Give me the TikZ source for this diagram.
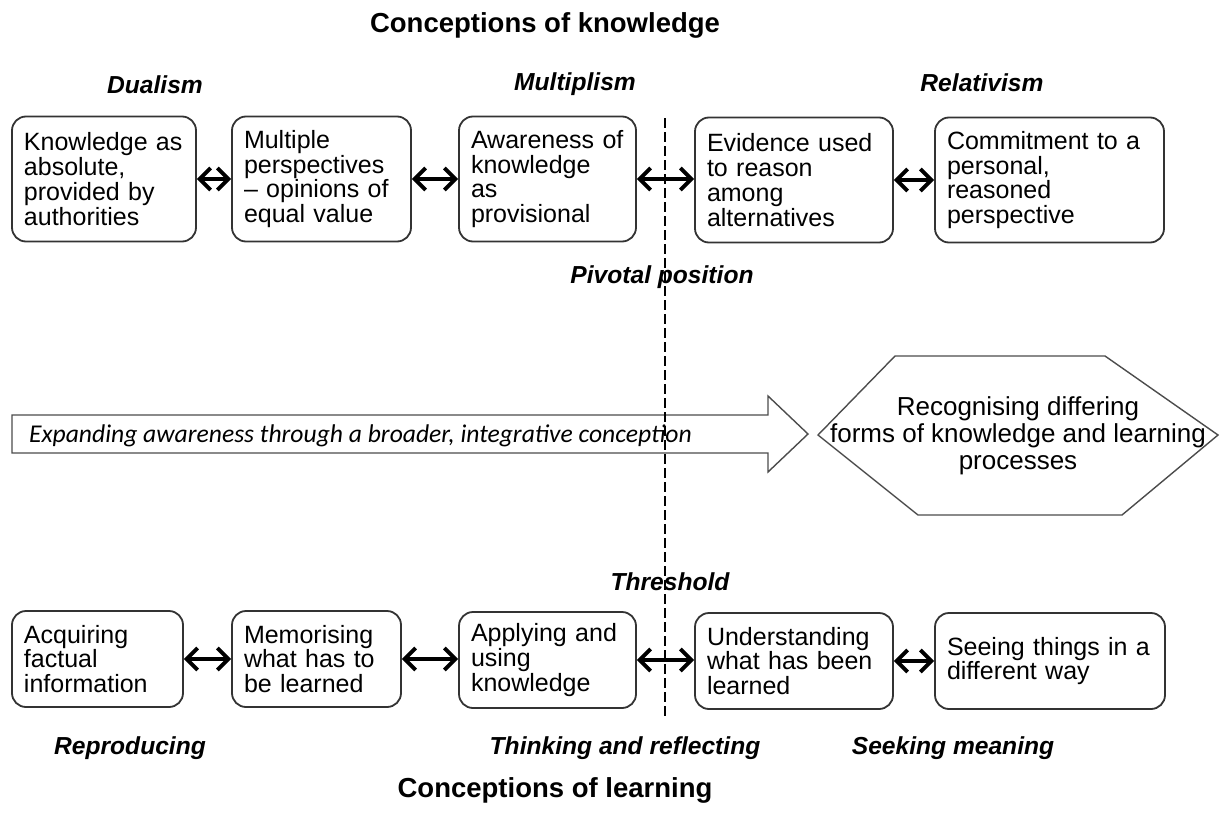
\documentclass[tikz,border=0pt]{standalone}
\usepackage{fontspec}
\setmainfont{Liberation Sans}
\newfontfamily\carlito{Carlito}
\usetikzlibrary{arrows.meta}

\tikzset{
    conbox/.style={draw=black!80, line width=0.9pt, rounded corners=7pt, align=left, inner xsep=6pt, inner ysep=0pt, font=\fontsize{12.5}{12.4}\selectfont},
    stagelabel/.style={font=\fontsize{12.3}{14}\selectfont\bfseries\itshape},
    heading/.style={font=\fontsize{13.75}{16}\selectfont\bfseries},
    biarrow/.style={{Straight Barb[length=5.5pt,width=11pt]}-{Straight Barb[length=5.5pt,width=11pt]}, line width=1.9pt},
    pivot/.style={dash pattern=on 5pt off 2pt, line width=1.4pt},
    outline/.style={draw=black!70, line width=0.7pt}
}

\begin{document}
\begin{tikzpicture}[x=0.5pt,y=-0.5pt]
    \useasboundingbox (0,0) rectangle (1221,830);

    % headings
    \node[heading] (hknow) at (545,25) {Conceptions of knowledge};
    \node[heading] (hlearn) at (555,790) {Conceptions of learning};

    % stage labels
    \node[stagelabel] (dual) at (155,85) {Dualism};
    \node[stagelabel] (multi) at (575,84) {Multiplism};
    \node[stagelabel] (rel) at (982,83) {Relativism};
    \node[stagelabel] (pivlab) at (662,277) {Pivotal position};
    \node[stagelabel] (thrlab) at (670,582) {Threshold};
    \node[stagelabel] (repr) at (130,748) {Reproducing};
    \node[stagelabel] (think) at (625,748) {Thinking and reflecting};
    \node[stagelabel] (seek) at (953,748) {Seeking meaning};

    % conceptions of knowledge
    \begin{scope}[every node/.append style={conbox, minimum height=62.5pt}]
        \node[minimum width=92pt, text width=80pt] (k1) at (104,179) {Knowledge as\\absolute,\\provided by\\authorities};
        \node[minimum width=89.5pt, text width=77.5pt] (k2) at (321.5,179) {Multiple\\perspectives\\-- opinions of\\equal value};
        \node[minimum width=88.5pt, text width=76.5pt] (k3) at (547.5,179) {Awareness of\\knowledge\\as\\provisional};
        \node[minimum width=99pt, text width=87pt] (k4) at (794,180) {Evidence used\\to reason\\among\\alternatives};
        \node[minimum width=114.5pt, text width=102.5pt] (k5) at (1049.5,180) {Commitment to a\\personal,\\reasoned\\perspective};
    \end{scope}

    % conceptions of learning
    \begin{scope}[every node/.append style={conbox, minimum height=48pt}]
        \node[minimum width=85.5pt, text width=73.5pt] (l1) at (97.5,659) {Acquiring\\factual\\information};
        \node[minimum width=84.5pt, text width=72.5pt] (l2) at (316.5,659) {Memorising\\what has to\\be learned};
        \node[minimum width=88.5pt, text width=76.5pt] (l3) at (547.5,660) {Applying and\\using\\knowledge};
        \node[minimum width=99pt, text width=87pt] (l4) at (794,661) {Understanding\\what has been\\learned};
        \node[minimum width=115pt, text width=103pt] (l5) at (1050,661) {Seeing things in a\\different way};
    \end{scope}

    \foreach \i in {1,...,4} {
        \pgfmathtruncatemacro{\j}{\i+1}
        \draw[biarrow] (k\i.east) -- (k\i.east -| k\j.west);
        \draw[biarrow] (l\i.east) -- (l\i.east -| l\j.west);
    }

    % expanding arrow and integrative conception
    \draw[outline] (12,415) -- (768,415) -- (768,396) -- (808,434) -- (768,472) -- (768,453) -- (12,453) -- cycle;
    \node[anchor=west, font=\carlito\itshape\fontsize{12.8}{14}\selectfont] (expand) at (22,436) {Expanding awareness through a broader, integrative conception};
    \draw[outline] (818,435) -- (895,356) -- (1105,356) -- (1218,435) -- (1122,515) -- (918,515) -- cycle;
    \node[align=center, font=\fontsize{13}{13.5}\selectfont] (recog) at (1018,436) {Recognising differing\\forms of knowledge and learning\\processes};

    % pivotal line
    \coordinate (ptop) at (665,118);
    \coordinate (pbot) at (665,718);
    \draw[pivot] (ptop) -- (pbot);
\end{tikzpicture}
\end{document}
